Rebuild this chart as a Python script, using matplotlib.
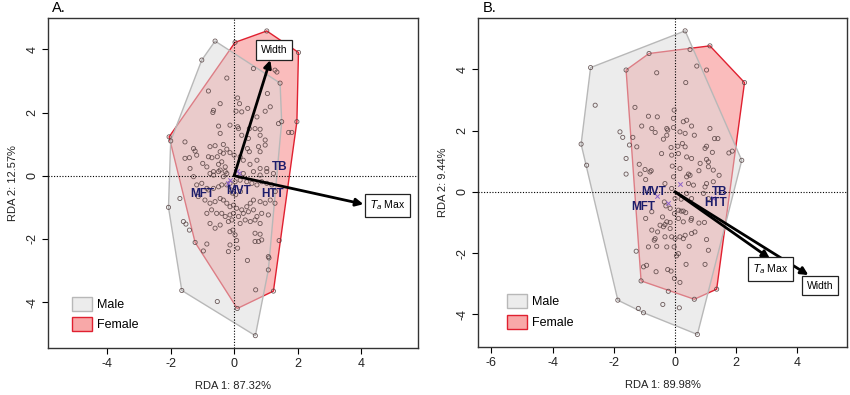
import numpy as np
import matplotlib
matplotlib.use("Agg")
import matplotlib.pyplot as plt
from matplotlib.patches import Polygon, Patch

plt.rcParams['font.family'] = ['Liberation Sans', 'DejaVu Sans']

# ---------------- Panel A data ----------------
A_male_x = [-0.60, -1.02, -2.00, -2.07, -1.65, 0.67, 1.10, 1.30, 1.50, 1.45,
            -1.71, -1.60, -1.52, -1.41, -0.53, 1.08, 0.68]
A_male_y = [4.26, 3.66, 1.10, -1.00, -3.63, -5.06, -2.60, -0.50, 1.71, 2.93,
            -0.72, -1.45, -1.53, -1.72, -3.98, -2.98, -3.61]

A_fem_x = [0.03, 1.03, 2.03, 1.98, 1.42, 1.24, 0.10, -1.23, -2.05,
           1.29, 1.35, 0.61, -0.23, -0.81, 1.05, 0.11, 0.17, -0.44, 0.43, -0.65, -0.67,
           0.06, 0.24, 0.98, 1.14, 0.72, 1.40, -0.49, -0.13, 0.11, 0.14, 0.48, 0.66, 0.82,
           -0.44, 0.24, 0.45, 0.82, 0.98, 1.82, 1.72, -1.55, -0.76, -0.60, -0.34, -0.23,
           -0.44, -0.34, -1.28, -1.23, -1.18, -1.55, -1.41, -0.70, -0.81, -0.53, -0.13, 0.00,
           0.42, 0.48, 0.77, 0.82, 0.98, 0.19, 0.29, 0.50, 0.72, 0.82, 1.03, -0.49, -0.39,
           -0.28, -0.65, -0.44, -0.28, -0.99, -0.86, -1.39,
           -1.28, -0.76, -0.65, -0.49, -0.34, -0.23, 0.29, 0.61, 0.82, 1.03, 1.24,
           -1.18, -1.02, -0.86, -0.81, -0.65, -0.49, -0.39, -0.23, -0.13, 0.03, 0.19, 0.40,
           0.56, 0.72, 0.87, 1.03, 1.19,
           -1.13, -0.92, -0.76, -0.60, -0.44, -0.34, -0.23, -0.13, -0.02, 0.08, 0.24, 0.40,
           0.51, 0.61, 0.82, 0.98, 1.14, 1.29,
           -0.86, -0.71, -0.55, -0.39, -0.28, -0.13, -0.02, 0.14, 0.29, 0.45, 0.61, 0.72,
           0.87, 1.08,
           -0.76, -0.60, -0.44, -0.18, -0.07, 0.19, 0.35, 0.51, 0.66, 0.82,
           -0.13, -0.04, 0.03, 0.66, 0.82, 0.77, 0.66, 0.87, 0.08, -0.13, 0.11, -0.18,
           -0.86, -0.97, 0.42, 1.08, -0.05, 0.05, -0.10, 0.20]
A_fem_y = [4.22, 4.58, 3.90, 1.71, -2.05, -3.65, -4.20, -2.11, 1.23,
           3.34, 3.28, 3.39, 3.09, 2.68, 2.60, 2.46, 2.28, 2.28, 2.13, 2.07, 2.00,
           2.04, 2.02, 2.04, 2.18, 1.86, 1.65, 1.57, 1.60, 1.55, 1.49, 1.49, 1.49, 1.47,
           1.34, 1.28, 1.18, 1.28, 1.13, 1.37, 1.37, 1.07, 0.92, 0.95, 0.99, 0.84,
           0.76, 0.71, 0.86, 0.78, 0.65, 0.55, 0.57, 0.57, 0.60, 0.60, 0.73, 0.65,
           0.86, 0.76, 0.92, 0.76, 0.97, 0.60, 0.49, 0.36, 0.49, 0.23, 0.23, 0.36, 0.44,
           0.28, 0.13, 0.18, 0.13, 0.39, 0.28, 0.23,
           -0.03, 0.07, 0.02, 0.13, -0.03, 0.07, 0.07, 0.13, 0.02, 0.13, 0.07,
           -0.29, -0.24, -0.40, -0.45, -0.40, -0.35, -0.29, -0.29, -0.24, -0.19, -0.14, -0.19,
           -0.24, -0.29, -0.19, -0.24, -0.29,
           -0.66, -0.77, -0.87, -0.82, -0.72, -0.77, -0.87, -0.98, -0.93, -1.03, -1.08, -0.98,
           -0.87, -0.77, -0.82, -0.87, -0.77, -0.87,
           -1.19, -1.08, -1.19, -1.19, -1.29, -1.24, -1.19, -1.29, -1.19, -1.14, -1.08, -1.29,
           -1.19, -1.24,
           -1.51, -1.66, -1.56, -1.45, -1.40, -1.51, -1.40, -1.45, -1.40, -1.51,
           -1.77, -1.72, -1.87, -1.82, -1.85, -2.08, -2.08, -2.03, -2.05, -2.19, -2.29, -2.40,
           -2.16, -2.38, -2.68, -2.56, -0.55, -0.60, -0.45, -0.50]

A_species_x = [0.14, 0.08, -0.13, -0.20]
A_species_y = [0.08, 0.16, -0.12, -0.22]

A_arrow_names = ["Width", "$T_a$ Max"]
A_arrow_x = [1.14, 4.08]
A_arrow_y = [3.66, -0.90]
A_arrow_lab_x = [1.26, 4.85]
A_arrow_lab_y = [3.98, -0.93]

A_site_labels = ["TB", "MFT", "MVT", "HTT"]
A_site_x = [1.43, -1.00, 0.14, 1.22]
A_site_y = [0.28, -0.58, -0.47, -0.58]

# ---------------- Panel B data ----------------
B_male_x = [0.33, -2.76, -3.07, -1.87, 0.73, 2.18,
            0.49, -2.61, -2.89, -1.80, -1.71, -1.60, -1.60, -1.49, -1.27, -1.20, -1.03,
            -0.40, 0.14, -0.22]
B_male_y = [5.26, 4.06, 1.56, -3.54, -4.66, 1.03,
            4.65, 2.83, 0.87, 1.96, 1.78, 1.09, 0.58, 1.53, -1.94, -3.81, -3.95,
            -3.68, -3.79, -3.25]

B_fem_x = [-1.60, -0.85, 1.14, 2.27, 1.36, 0.63, -1.11,
           0.71, 1.03, -0.60, 0.35, -1.31, -0.03, -0.87, -0.58, -0.05, 0.27, 0.38,
           -1.38, -1.09, -0.76, -0.65, -0.27, -0.24, -0.05, -0.38, -0.27, 0.16, 0.33, 0.54,
           0.63, 1.14, 1.29, 1.40, -1.25, -0.13, 0.09, 0.24, 0.33, -0.44, -0.11, 0.11, 0.38,
           0.54, 0.98, 1.03, 1.22, 1.03, 1.09, 1.76, 1.87, -1.17, -0.98, -0.82, -0.78,
           -0.09, 0.16, 0.44, 0.49, 0.38, 0.82, 0.78, 1.09, 1.25, 1.44, -1.14, -0.96,
           -0.33, -0.05, 0.44, 0.60, 1.03, 0.98, 1.25,
           -0.11, -0.35, -0.30, 0.00, 0.20, 0.38, 0.54, 0.93, 1.09, -0.76, -0.96, -0.41,
           -0.27, -0.16, -0.02, 0.11, 0.20, 0.27, 0.35, 0.11, 0.27, 0.54, 0.52, 0.78, 0.96,
           -0.49, -0.38, -0.33, -0.16, -0.76, -0.57, -0.16, -0.11, -0.33, -0.65, -0.68,
           0.16, 0.27, 0.33, 0.54, 0.65, 0.00, 1.03, 0.46, 1.09, -0.87, -0.60, -0.27, -0.03,
           0.11, 0.05, 0.36, 0.98, -0.93, -1.03, -0.62, -0.24, -0.13, -0.02, 0.16]
B_fem_y = [3.98, 4.52, 4.77, 3.57, -3.18, -3.51, -2.91,
           4.11, 3.98, 3.89, 3.57, 2.76, 2.67, 2.47, 2.45, 2.40, 2.29, 2.34,
           1.78, 2.15, 2.07, 1.94, 2.07, 2.02, 2.10, 1.72, 1.85, 1.96, 1.91, 2.15,
           1.85, 2.07, 1.74, 1.74, 1.47, 1.45, 1.49, 1.58, 1.47, 1.25, 1.20, 1.25, 1.14,
           1.09, 1.42, 1.49, 1.29, 1.06, 0.98, 1.27, 1.33, 0.90, 0.73, 0.65, 0.69,
           0.84, 0.76, 0.58, 0.54, 0.49, 0.93, 0.69, 0.82, 0.71, 0.54, 0.58, 0.40,
           0.27, 0.49, 0.27, 0.22, 0.27, 0.16, 0.33,
           0.11, -0.33, -0.46, -0.22, -0.24, -0.05, -0.22, -0.05, -0.22, -0.65, -0.87, -0.82,
           -0.98, -0.54, -0.71, -0.60, -0.63, -0.63, -0.68, -0.87, -0.98, -0.87, -0.93, -1.02, -1.00,
           -1.09, -1.14, -1.07, -1.00, -1.25, -1.31, -1.20, -1.47, -1.47, -1.53, -1.58,
           -1.47, -1.53, -1.42, -1.36, -1.31, -1.53, -1.56, -1.78, -1.91, -1.80, -1.78, -1.80, -1.80,
           -2.02, -2.09, -2.37, -2.37, -2.40, -2.45, -2.61, -2.54, -2.59, -2.83, -2.96]

B_species_x = [0.16, -0.22, -0.60, 1.25]
B_species_y = [0.27, -0.36, -0.15, -0.20]

B_arrow_names = ["$T_a$ Max", "Width"]
B_arrow_x = [3.10, 4.36]
B_arrow_y = [-2.18, -2.72]
B_arrow_lab_x = [3.13, 4.74]
B_arrow_lab_y = [-2.52, -3.07]

B_site_labels = ["MVT", "TB", "MFT", "HTT"]
B_site_x = [-0.71, 1.45, -1.04, 1.33]
B_site_y = [0.00, 0.00, -0.49, -0.36]


def convex_hull(xs, ys):
    pts = sorted(set(zip(xs, ys)))
    def cross(o, a, b):
        return (a[0]-o[0])*(b[1]-o[1]) - (a[1]-o[1])*(b[0]-o[0])
    lower = []
    for p in pts:
        while len(lower) >= 2 and cross(lower[-2], lower[-1], p) <= 0:
            lower.pop()
        lower.append(p)
    upper = []
    for p in reversed(pts):
        while len(upper) >= 2 and cross(upper[-2], upper[-1], p) <= 0:
            upper.pop()
        upper.append(p)
    return np.array(lower[:-1] + upper[:-1])


MALE_FACE = (0.86, 0.86, 0.86, 0.5)
MALE_EDGE = '#b8b8b8'
FEM_FACE = (0.96, 0.38, 0.38, 0.42)
FEM_EDGE = '#e02030'
PT_EDGE = (0.33, 0.25, 0.25, 0.85)


def draw_panel(ax, mx, my, fx, fy, sx, sy, anames, ax_, ay_, alx, aly,
               slabels, slx, sly, xlim, ylim, xticks, yticks, xlabel, ylabel,
               leg_anchor):
    fh = convex_hull(fx, fy)
    mh = convex_hull(mx, my)
    ax.add_patch(Polygon(fh, closed=True, facecolor=FEM_FACE, edgecolor=FEM_EDGE,
                         lw=1.0, zorder=1))
    ax.add_patch(Polygon(mh, closed=True, facecolor=MALE_FACE, edgecolor=MALE_EDGE,
                         lw=1.0, zorder=2))
    ax.axhline(0, color='black', ls=(0, (1, 1.5)), lw=0.8, zorder=3)
    ax.axvline(0, color='black', ls=(0, (1, 1.5)), lw=0.8, zorder=3)
    ax.scatter(mx, my, s=9, facecolors='none', edgecolors=PT_EDGE, linewidths=0.6, zorder=4)
    ax.scatter(fx, fy, s=9, facecolors='none', edgecolors=PT_EDGE, linewidths=0.6, zorder=4)
    ax.scatter(sx, sy, s=10, marker='x', color='#8a60c8', linewidths=0.7, zorder=5)
    for name, x, y, lx, ly in zip(anames, ax_, ay_, alx, aly):
        ax.annotate('', xy=(x, y), xytext=(0, 0),
                    arrowprops=dict(arrowstyle='-|>', lw=2.0, color='black',
                                    mutation_scale=11, shrinkA=0, shrinkB=0),
                    zorder=6)
        ax.text(lx, ly, name, ha='center', va='center', fontsize=7.5, zorder=7,
                bbox=dict(boxstyle='square,pad=0.45', facecolor='white',
                          edgecolor='#222222', lw=0.9))
    for t, x, y in zip(slabels, slx, sly):
        ax.text(x, y, t, ha='center', va='center', fontsize=8.5, fontweight='bold',
                color='#1c1c6a', zorder=7)
    ax.set_xlim(*xlim)
    ax.set_ylim(*ylim)
    ax.set_xticks(xticks)
    ax.set_yticks(yticks)
    ax.set_xticklabels([f"{v:g}" for v in xticks])
    ax.set_yticklabels([f"{v:g}" for v in yticks], rotation=90, va='center')
    ax.tick_params(direction='out', length=4, width=0.8, labelsize=9,
                   labelcolor='#222222', pad=3)
    for s in ax.spines.values():
        s.set_linewidth(1.0)
        s.set_color('#333333')
    ax.set_xlabel(xlabel, fontsize=8, color='#222222', labelpad=8)
    ax.set_ylabel(ylabel, fontsize=8, color='#222222', labelpad=6)
    handles = [Patch(facecolor='#ececec', edgecolor=MALE_EDGE, lw=1.0, label='Male'),
               Patch(facecolor='#f8a8a8', edgecolor=FEM_EDGE, lw=1.0, label='Female')]
    ax.legend(handles=handles, loc='lower left', bbox_to_anchor=leg_anchor,
              frameon=False, fontsize=9, handlelength=1.6, handleheight=1.35,
              handletextpad=0.4, labelspacing=0.5, borderaxespad=0)


fig = plt.figure(figsize=(8.5, 3.95), dpi=100)
axA = fig.add_axes([48/850, 1-348/395, 370/850, 330/395])
axB = fig.add_axes([478/850, 1-347/395, 369/850, 329/395])

draw_panel(axA, A_male_x, A_male_y, A_fem_x, A_fem_y, A_species_x, A_species_y,
           A_arrow_names, A_arrow_x, A_arrow_y, A_arrow_lab_x, A_arrow_lab_y,
           A_site_labels, A_site_x, A_site_y,
           (-5.87, 5.80), (-5.45, 4.99), [-4, -2, 0, 2, 4], [-4, -2, 0, 2, 4],
           "RDA 1: 87.32%", "RDA 2: 12.57%", (0.05, 0.035))

draw_panel(axB, B_male_x, B_male_y, B_fem_x, B_fem_y, B_species_x, B_species_y,
           B_arrow_names, B_arrow_x, B_arrow_y, B_arrow_lab_x, B_arrow_lab_y,
           B_site_labels, B_site_x, B_site_y,
           (-6.44, 5.62), (-5.07, 5.68), [-6, -4, -2, 0, 2, 4], [-4, -2, 0, 2, 4],
           "RDA 1: 89.98%", "RDA 2: 9.44%", (0.065, 0.04))

fig.text(52/850, 1-8/395, "A.", fontsize=10.5, ha='left', va='center')
fig.text(483/850, 1-8/395, "B.", fontsize=10.5, ha='left', va='center')

fig.savefig("out.png", dpi=100)
